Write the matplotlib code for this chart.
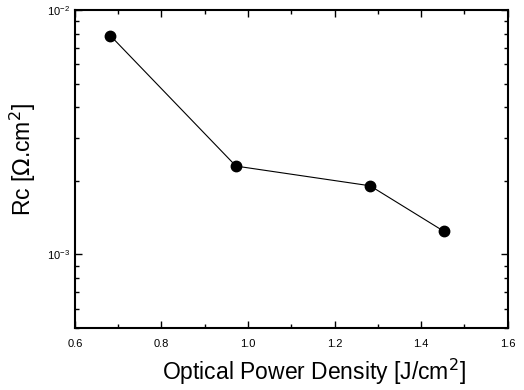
import matplotlib
matplotlib.use("Agg")
import matplotlib.pyplot as plt
from matplotlib.ticker import LogLocator, MultipleLocator, NullFormatter

plt.rcParams['font.family'] = ['Liberation Sans', 'DejaVu Sans']

# data
power_density = [0.682, 0.972, 1.282, 1.452]
rc_values = [7.86e-3, 2.3e-3, 1.91e-3, 1.245e-3]

fig = plt.figure(figsize=(5.24, 3.90), dpi=100)
ax = fig.add_axes([0.143, 0.159, 0.826, 0.815])

ax.plot(power_density, rc_values, color='black', linewidth=0.8,
        marker='o', markersize=7.5, markerfacecolor='black')

ax.set_yscale('log')
ax.set_xlim(0.6, 1.6)
ax.set_ylim(5e-4, 1e-2)

ax.xaxis.set_major_locator(MultipleLocator(0.2))
ax.xaxis.set_minor_locator(MultipleLocator(0.1))
ax.yaxis.set_major_locator(LogLocator(base=10))
ax.yaxis.set_minor_locator(LogLocator(base=10, subs=range(2, 10)))
ax.yaxis.set_minor_formatter(NullFormatter())

ax.tick_params(which='both', direction='in', top=True, right=True, labelsize=8, width=1)
ax.tick_params(which='major', length=5)
ax.tick_params(which='minor', length=3)
ax.tick_params(axis='x', pad=8)
for s in ax.spines.values():
    s.set_linewidth(1.5)

ax.set_xlabel('Optical Power Density [J/cm$^2$]', fontsize=16.5)
ax.set_ylabel(r'Rc [$\Omega$.cm$^2$]', fontsize=16.5)
ax.xaxis.set_label_coords(0.553, -0.09)
ax.yaxis.set_label_coords(-0.085, 0.53)

fig.savefig('out.png', dpi=100)
